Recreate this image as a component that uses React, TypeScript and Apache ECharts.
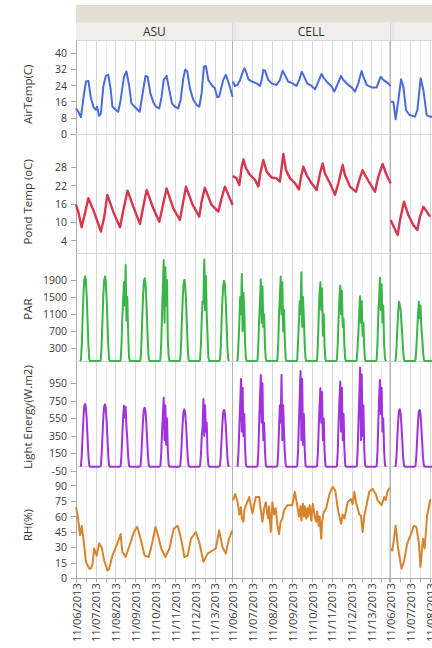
import React, { useEffect, useRef } from 'react';
import * as echarts from 'echarts';

// ---------- labels ----------
const columnNames = ['ASU', 'CELL', ''];
const rowNames = ['AirTemp(C)', 'Pond Temp (oC)', 'PAR', 'Light Energy(W.m2)', 'RH(%)'];
const dayLabels = ['11/06/2013', '11/07/2013', '11/08/2013', '11/09/2013', '11/10/2013', '11/11/2013', '11/12/2013', '11/13/2013'];
const rowColors = ['#4a6bd9', '#d6364e', '#3bb44a', '#a033dc', '#d8842e'];

// y tick values per row
const airTicks = [0, 8, 16, 24, 32, 40];
const pondTicks = [4, 10, 16, 22, 28];
const parTicks = [300, 700, 1100, 1500, 1900];
const lightTicks = [-50, 150, 350, 550, 750, 950];
const rhTicks = [0, 15, 30, 45, 60, 75, 90];

// ---------- data: [hours since 11/06 00:00, value] ----------
const airAsu = [[0,12.7],[2.8,11],[6,8.3],[9.7,20],[12,26],[15,26.3],[17.7,18.5],[21,13.5],[23.8,12],[25.5,13.5],[27.8,9],[30,10],[33,23.5],[36,28.8],[39,29.3],[42,21.8],[44,13.5],[48,12],[51,11],[54,17],[58,28.4],[61,31],[64.4,23.5],[67,15.2],[71,13.5],[74.5,12],[77,11],[80.5,20],[84,28.8],[86.5,28.4],[90,20],[94,15.2],[97,13.5],[100.6,12.7],[103.5,18.5],[106,26.8],[109.5,28.8],[112.8,21.8],[116,15.2],[119.6,13.5],[123.6,12.7],[126.5,17],[129.7,27.6],[132,32],[134.5,31],[137.7,22.6],[141.7,17],[145.8,14.4],[149,13.5],[151.8,20],[154.6,33.4],[157,33.7],[159.9,26.8],[163.9,24.3],[167.9,22.6],[170.7,18.2],[173,18.5],[176,23.5],[178,26.8],[181,29.3],[184,26],[187,21.8],[189.3,18.5]];
const airCell = [[0,26],[2.8,23.8],[5.6,24.3],[8.9,26.8],[12,30.4],[14,32.6],[16,31],[19,27.1],[23,26],[29,25.1],[33,23.8],[35,26.8],[37,31.7],[39,31.4],[43,26.8],[47,25.1],[53,24.3],[57,26.8],[60.4,31.4],[63,29.3],[67,26],[72.5,25.1],[77,23.8],[80.5,26.8],[83.4,30.9],[86,28.8],[90,25.1],[95.4,23.8],[99.5,22.1],[103.5,26],[107.5,29.8],[110.3,27.6],[115.6,25.1],[119.6,23.5],[122.8,21],[126.4,24.3],[130.9,28.8],[133.7,26.8],[139.7,24.3],[143.8,23.1],[147.8,21],[151.8,25.1],[155.8,31.2],[157.9,28.4],[161.9,24.3],[167.9,23.1],[174,23.1],[178.8,28.4],[182,26.8],[188,25.1],[190.9,23.8]];
const airThird = [[0,16],[3.2,16],[6,7.3],[9.3,16.9],[12.5,27.1],[15.3,23.5],[18.5,11.9],[22.6,9.4],[29.4,8.6],[32.2,11.9],[36.2,27.6],[39.5,21.8],[43.5,9.4],[47.5,8.6],[51.5,8.6]];

const pondAsu = [[0,15.7],[2.8,13.5],[6.8,8.4],[10.9,13],[14.9,17.9],[21,14],[30.2,7],[34.2,11.9],[37.9,19],[45,13.5],[53.2,8.4],[57.2,14],[62.4,20.4],[69.3,15.1],[77.3,9.5],[81.3,15.1],[85.4,20.6],[93.4,14.6],[100.7,10.2],[105.5,16.2],[109.5,21.1],[117.6,14.6],[125.6,10.8],[128.9,15.7],[132.9,21.7],[141,15.7],[149,11.9],[151.8,16.8],[155.8,21.3],[163.9,15.7],[172,13.5],[176,17.9],[180,21.7],[189.3,15.7]];
const pondCell = [[0,25.2],[4.8,24.4],[8,22.2],[10.9,28.2],[12.9,30.6],[16.1,27.7],[21,25.5],[27,23.9],[31,21.7],[33.8,26.6],[37,30.4],[41,26.6],[47,24.7],[53,24.4],[57,23.3],[61.2,32.4],[64.4,27.1],[69.3,24.4],[75.3,22.8],[80,20.8],[82.6,24.9],[85.4,28.2],[89.4,25.5],[95.4,22.8],[101.5,20.6],[105.5,26],[108.7,29.3],[111.5,26],[117.6,22.8],[123.6,19],[127.7,22.8],[132.9,28.8],[135.7,25.5],[141.7,21.7],[149,20],[153,23.9],[157,27.1],[159.9,25.5],[165.9,22.8],[172,20],[176,24.9],[181.2,29.1],[186,25.5],[190.9,22.8]];
const pondThird = [[0,10.8],[3.2,8.8],[8.5,5.9],[11.3,10.8],[16.1,16.8],[21.3,12.4],[27.4,9.1],[32.2,7.5],[35.4,11.9],[39.5,15.1],[43.5,13.5],[47.5,11.9]];

// PAR: hourly readings from 05:00 to 17:00 for each day
const parAsu = [
  [0, 30, 400, 1000, 1550, 1900, 1990, 1880, 1500, 950, 380, 40, 0],
  [0, 30, 380, 980, 1530, 1880, 1980, 1870, 1480, 930, 360, 40, 0],
  [0, 30, 400, 1020, 1450, 1850, 1300, 2250, 950, 1500, 700, 120, 0],
  [0, 30, 370, 960, 1500, 1840, 1940, 1830, 1450, 900, 350, 40, 0],
  [0, 30, 420, 1100, 1700, 2370, 900, 2200, 1300, 1900, 500, 100, 0],
  [0, 30, 360, 940, 1470, 1800, 1900, 1790, 1420, 880, 340, 40, 0],
  [0, 30, 400, 1000, 1400, 1350, 2380, 1200, 2000, 1100, 600, 80, 0],
  [0, 30, 350, 930, 1450, 1780, 1880, 1770, 1400, 870, 330, 40, 0],
];
const parCell = [
  [0, 30, 420, 900, 1500, 1100, 2040, 700, 1600, 1200, 400, 60, 0],
  [0, 30, 400, 1000, 1400, 1915, 900, 1750, 800, 1100, 350, 50, 0],
  [0, 30, 400, 1100, 1500, 1980, 1100, 1850, 700, 1200, 500, 60, 0],
  [0, 30, 450, 900, 1400, 1100, 2080, 800, 1500, 1000, 400, 60, 0],
  [0, 30, 400, 1100, 1600, 1845, 1200, 1700, 600, 1100, 350, 50, 0],
  [0, 30, 420, 1000, 1500, 1770, 1100, 1650, 800, 1000, 350, 50, 0],
  [0, 30, 350, 700, 1200, 1520, 900, 1400, 600, 900, 300, 40, 0],
  [0, 30, 420, 1100, 1500, 1955, 1200, 1800, 900, 1300, 400, 60, 0],
];
const parThird = [
  [0, 30, 300, 750, 1150, 1390, 1300, 1200, 900, 600, 250, 40, 0],
  [0, 30, 300, 700, 1100, 1390, 1000, 1300, 800, 600, 250, 40, 0],
  [0],
];

// Light energy: hourly readings from 05:00 to 17:00 for each day
const lightAsu = [
  [0, 10, 140, 360, 560, 690, 714, 670, 530, 330, 130, 15, 0],
  [0, 10, 140, 355, 555, 685, 710, 665, 525, 325, 125, 15, 0],
  [0, 10, 140, 370, 560, 695, 560, 680, 450, 320, 120, 15, 0],
  [0, 10, 130, 340, 530, 650, 672, 630, 500, 310, 120, 15, 0],
  [0, 10, 150, 400, 600, 786, 300, 700, 250, 550, 180, 20, 0],
  [0, 10, 125, 330, 510, 630, 653, 610, 480, 300, 115, 15, 0],
  [0, 10, 140, 350, 450, 771, 350, 700, 400, 500, 150, 20, 0],
  [0, 10, 120, 325, 500, 625, 646, 600, 470, 295, 110, 15, 0],
];
const lightCell = [
  [0, 10, 160, 450, 700, 1000, 400, 900, 350, 600, 200, 20, 0],
  [0, 10, 170, 500, 800, 1045, 500, 950, 300, 500, 180, 20, 0],
  [0, 10, 160, 450, 700, 500, 1045, 300, 700, 400, 150, 20, 0],
  [0, 10, 180, 500, 800, 1090, 300, 1000, 250, 600, 200, 20, 0],
  [0, 10, 160, 450, 700, 893, 500, 850, 300, 550, 180, 20, 0],
  [0, 10, 170, 500, 750, 970, 400, 900, 300, 600, 200, 20, 0],
  [0, 10, 180, 500, 800, 1128, 300, 1050, 350, 700, 200, 20, 0],
  [0, 10, 170, 500, 800, 988, 600, 900, 400, 550, 180, 20, 0],
];
const lightThird = [
  [0, 10, 120, 330, 510, 640, 653, 610, 470, 300, 110, 15, 0],
  [0, 10, 120, 325, 500, 630, 646, 600, 460, 290, 110, 15, 0],
  [0],
];
const firstReadingHour = 5;

const rhAsu = [[0,69],[2,61],[5,42],[7,51],[9,38],[12,16],[16,9.4],[18,9.5],[20,14],[22,29],[25,22],[28,34],[31,30],[34,17.5],[38,7.7],[40,9],[44,22],[50,34],[54,43],[56,25.5],[60,20.7],[66,35],[70,45],[74,50],[78,38.5],[83,22],[88,20.7],[92,34],[96,50],[99,42],[103,29],[108,20.7],[113,29],[118,48],[123,51],[127,38.5],[131,20.7],[135,22],[139,38.5],[145,45],[149,35],[154,16],[159,24],[165,27],[169,29],[173,46.6],[177,30.4],[181,24],[185,38.5],[189,46.6]];
const rhCell = [[0,76],[1,77],[3,82],[6,74],[8,62],[10,69],[11,58],[13,55],[14,66],[16,71],[20,79],[22,70],[24,63],[26,72],[28,79],[32,79],[34,66],[36,55],[38,68],[40,74],[42,62],[43,58],[44,70],[46,45],[48,74],[50,62],[52,68],[54,52],[56,43],[58,55],[60,58],[62,66],[66,71],[72,71],[75,84],[78,71],[80,60],[82,70],[83,56],[84,68],[85,72.5],[86,60],[87,70],[89,58],[90,68],[91,60],[93,71],[94,62],[95,56],[96,68],[97,72.5],[99,60],[101,55],[102,65],[104,51],[105,60],[107,38.5],[108,55],[110,64],[113,68],[117,82],[121,89],[124,85],[127,68],[129,60],[131,53],[133,62],[135,58],[139,74],[143,77],[145,72],[147,84],[149,74],[151,68],[153,62],[155,61],[157,45],[159,60],[161,68],[165,84],[169,87],[171,84],[173,82],[175,76],[177,74],[180,71],[183,79],[185,76],[187,84],[189.4,88]];
const rhThird = [[0,29],[2,27],[6,51],[9,29],[13,9.4],[16,16],[20,34],[24,42],[28,51],[31,50],[34,35],[36,11],[39,38.5],[41,29],[44,61],[48,77]];

// ---------- build ----------
function daytime(days: number[][]): number[][] {
  const out: number[][] = [];
  days.forEach((vals, d) => vals.forEach((v, i) => out.push([d * 24 + firstReadingHour + i, v])));
  return out;
}

const rowData = [
  [airAsu, airCell, airThird],
  [pondAsu, pondCell, pondThird],
  [daytime(parAsu), daytime(parCell), daytime(parThird)],
  [daytime(lightAsu), daytime(lightCell), daytime(lightThird)],
  [rhAsu, rhCell, rhThird],
];
const rowTicks = [airTicks, pondTicks, parTicks, lightTicks, rhTicks];

// layout
const colLeft = [76, 232.7, 390.7];
const colWidth = 156.7;
const rowTop = [41, 147.5, 256, 362, 472];
const rowBottom = [147.5, 256, 362, 472, 578.3];
const yMin = [-6.7, -1.0, -21, -61, 0];
const yMax = [46.1, 34.5, 2462, 1193, 103.3];
const xMaxHours = 189.4;
const FONT = '"Open Sans", "Noto Sans", sans-serif';

function buildOption() {
  const grid: any[] = [];
  const xAxis: any[] = [];
  const yAxis: any[] = [];
  const series: any[] = [];
  for (let r = 0; r < 5; r++) {
    for (let c = 0; c < 3; c++) {
      const idx = r * 3 + c;
      const bottomRow = r === 4;
      grid.push({
        left: colLeft[c],
        top: rowTop[r],
        width: colWidth,
        height: rowBottom[r] - rowTop[r],
        containLabel: false,
      });
      xAxis.push({
        type: 'value',
        gridIndex: idx,
        min: 0,
        max: xMaxHours,
        interval: 12,
        axisLine: { show: true, lineStyle: { color: bottomRow ? '#a9a9a9' : '#d6d6d6', width: 1 } },
        axisTick: { show: bottomRow, length: 4, lineStyle: { color: '#a9a9a9' } },
        axisLabel: {
          show: bottomRow,
          rotate: 90,
          fontSize: 11,
          fontFamily: FONT,
          color: '#3a3a3a',
          margin: 5,
          formatter: (v: number) => {
            if (Math.abs(v % 24) > 1e-6) return '';
            return dayLabels[Math.round(v / 24)] ?? '';
          },
        },
        splitLine: { show: true, lineStyle: { color: ['#d8d8d8', '#efefef'], width: 1 } },
      });
      yAxis.push({
        type: 'value',
        gridIndex: idx,
        min: yMin[r],
        max: yMax[r],
        name: c === 0 ? rowNames[r] : '',
        nameLocation: 'middle',
        nameRotate: 90,
        nameGap: 43,
        nameTextStyle: { fontSize: 11.5, fontFamily: FONT, color: '#3a3a3a' },
        axisLine: { show: true, lineStyle: { color: c === 0 ? '#a9a9a9' : '#b4b4b4', width: 1 } },
        axisTick: { show: c === 0, length: 5, customValues: rowTicks[r], lineStyle: { color: '#a9a9a9' } },
        axisLabel: {
          show: c === 0,
          customValues: rowTicks[r],
          fontSize: 10.5,
          fontFamily: FONT,
          color: '#3a3a3a',
          margin: 9,
          formatter: (v: number) => String(v),
        },
        splitLine: { show: false },
      });
      series.push({
        type: 'line',
        xAxisIndex: idx,
        yAxisIndex: idx,
        data: rowData[r][c],
        showSymbol: false,
        symbol: 'none',
        clip: true,
        lineStyle: { color: rowColors[r], width: r === 1 ? 2.4 : 2, join: 'round' },
        itemStyle: { color: rowColors[r] },
        emphasis: { disabled: true },
      });
    }
  }

  const graphicEls: any[] = [
    { type: 'rect', shape: { x: 76, y: 5, width: 480, height: 17.7 }, style: { fill: '#e1dfd6' }, silent: true },
    { type: 'rect', shape: { x: 76, y: 22.7, width: 480, height: 17.8 }, style: { fill: '#efeeea' }, silent: true },
    { type: 'line', shape: { x1: 76, y1: 40.5, x2: 556, y2: 40.5 }, style: { stroke: '#d6d6d6', lineWidth: 1 }, silent: true },
  ];
  [232.7, 390.7].forEach((x) => {
    graphicEls.push({ type: 'line', shape: { x1: x, y1: 22.7, x2: x, y2: 40.5 }, style: { stroke: '#cfcfcf', lineWidth: 1 }, silent: true });
    graphicEls.push({ type: 'line', shape: { x1: x + 2.5, y1: 22.7, x2: x + 2.5, y2: 40.5 }, style: { stroke: '#dedede', lineWidth: 1 }, silent: true });
  });
  columnNames.forEach((name, c) => {
    if (!name) return;
    graphicEls.push({
      type: 'text',
      x: colLeft[c] + colWidth / 2,
      y: 31.8,
      silent: true,
      style: {
        text: name,
        fill: '#333333',
        fontSize: 12,
        fontFamily: FONT,
        align: 'center',
        verticalAlign: 'middle',
        textAlign: 'center',
        textVerticalAlign: 'middle',
      },
    });
  });

  return {
    animation: false,
    backgroundColor: '#ffffff',
    textStyle: { fontFamily: FONT },
    grid,
    xAxis,
    yAxis,
    series,
    graphic: { elements: graphicEls },
  };
}

export default function App() {
  const ref = useRef<HTMLDivElement>(null);
  useEffect(() => {
    if (!ref.current) return;
    const chart = echarts.init(ref.current, null, { renderer: 'svg' });
    chart.setOption(buildOption() as any);
    return () => chart.dispose();
  }, []);
  return (
    <div style={{ position: 'fixed', left: 0, top: 0, width: 432, height: 648, overflow: 'hidden', background: '#ffffff' }}>
      <div ref={ref} style={{ width: 560, height: 648 }} />
    </div>
  );
}
